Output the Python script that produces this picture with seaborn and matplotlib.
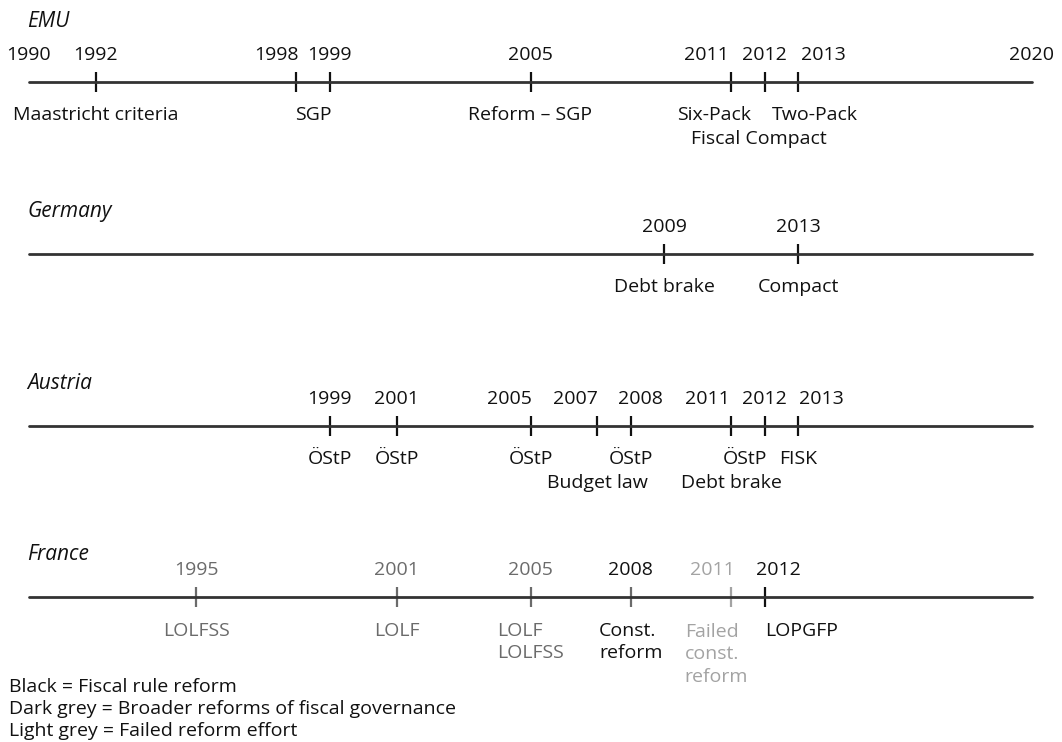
import pandas as pd
import matplotlib.pyplot as plt
import seaborn as sns

sns.set_theme(style="white")
plt.rcParams['font.family'] = ['Open Sans', 'DejaVu Sans']

# timeline data
emu_years = [1992, 1998, 1999, 2005, 2011, 2012, 2013]
emu_events = ["Maastricht criteria", "SGP", "", "Reform – SGP", "Six-Pack", "\nFiscal Compact", "Two-Pack"]
emu_kinds = ["rule", "rule", "rule", "rule", "rule", "rule", "rule"]

germany_years = [2009, 2013]
germany_events = ["Debt brake", "Compact"]
germany_kinds = ["rule", "rule"]

austria_years = [1999, 2001, 2005, 2007, 2008, 2011, 2012, 2013]
austria_events = ["ÖStP", "ÖStP", "ÖStP", "\nBudget law", "ÖStP", "\nDebt brake", "ÖStP", "FISK"]
austria_kinds = ["rule", "rule", "rule", "rule", "rule", "rule", "rule", "rule"]

france_years = [1995, 2001, 2005, 2008, 2011, 2012]
france_events = ["LOLFSS", "LOLF", "LOLF\nLOLFSS", "Const.\nreform", "Failed\nconst.\nreform", "LOPGFP"]
france_kinds = ["broad", "broad", "broad", "rule", "failed", "rule"]
france_tick_kinds = ["broad", "broad", "broad", "broad", "failed", "rule"]

span = [1990, 2020]
legend_lines = ["Black = Fiscal rule reform",
                "Dark grey = Broader reforms of fiscal governance",
                "Light grey = Failed reform effort"]

colors = {"rule": "#111111", "broad": "#6b6b6b", "failed": "#a3a3a3"}

# layout (pixel rows, label nudges in years)
rows = {"EMU": 82, "Germany": 254, "Austria": 426, "France": 597}
year_nudge = {("EMU", 1998): -0.6, ("EMU", 2011): -0.75, ("EMU", 2013): 0.75,
              ("Austria", 2005): -0.63, ("Austria", 2007): -0.66, ("Austria", 2008): 0.3,
              ("Austria", 2011): -0.72, ("Austria", 2013): 0.69,
              ("France", 2011): -0.57, ("France", 2012): 0.42}
event_nudge = {("EMU", 1998): 0.5, ("EMU", 2011): -0.5, ("EMU", 2012): -0.16, ("EMU", 2013): 0.5,
               ("Austria", 2012): -0.58, ("France", 2011): -0.44, ("France", 2012): 1.1}

data = {
    "EMU": (emu_years, emu_events, emu_kinds, emu_kinds),
    "Germany": (germany_years, germany_events, germany_kinds, germany_kinds),
    "Austria": (austria_years, austria_events, austria_kinds, austria_kinds),
    "France": (france_years, france_events, france_kinds, france_tick_kinds),
}

px_per_year = (1032 - 29) / 30
fig = plt.figure(figsize=(10.62, 7.42), dpi=100)
ax = fig.add_axes([0, 0, 1, 1])

lines_df = pd.DataFrame([{"country": c, "year": yr, "y": rows[c]} for c in rows for yr in span])
sns.lineplot(data=lines_df, x="year", y="y", units="country", estimator=None,
             color="#333333", linewidth=2, ax=ax, legend=False)

tick_rows = []
for c, (yrs, ev, kinds, tkinds) in data.items():
    for yr, k in zip(yrs, tkinds):
        tick_rows.append({"year": yr, "y": rows[c], "kind": k})
ticks_df = pd.DataFrame(tick_rows)
sns.scatterplot(data=ticks_df, x="year", y="y", hue="kind", palette=colors, marker="|",
                s=207, linewidth=1.6, legend=False, ax=ax)

fs = 14
step = 23
for c, (yrs, ev, kinds, tkinds) in data.items():
    y0 = rows[c]
    lab_y = y0 - 55 if c == "EMU" else y0 - 37
    ax.text(1990 - 2 / px_per_year, lab_y, c, style="italic", fontsize=15,
            ha="left", va="baseline", color="#111111")
    for yr, e, k in zip(yrs, ev, kinds):
        ax.text(yr + year_nudge.get((c, yr), 0), y0 - 22, str(yr), fontsize=fs,
                ha="center", va="baseline", color=colors[k])
        if e:
            skip = len(e) - len(e.lstrip("\n"))  # blank leading lines
            e = e.lstrip("\n")
            n = e.count("\n")
            ax.text(yr + event_nudge.get((c, yr), 0), y0 + 38.5 + (skip + n) * step, e,
                    fontsize=fs, ha="center", va="baseline", multialignment="left",
                    linespacing=1.3, color=colors[k])
    if c == "EMU":
        for yr in span:
            ax.text(yr, y0 - 22, str(yr), fontsize=fs, ha="center", va="baseline",
                    color="#111111")

for i, t in enumerate(legend_lines):
    ax.text(1990 - 20 / px_per_year, 691.5 + 22 * i, t, fontsize=fs,
            ha="left", va="baseline", color="#111111")

ax.set_xlim(1990 - 29 / px_per_year, 2020 + 30 / px_per_year)
ax.set_ylim(742, 0)
ax.axis("off")

plt.savefig("out.png", dpi=100)
